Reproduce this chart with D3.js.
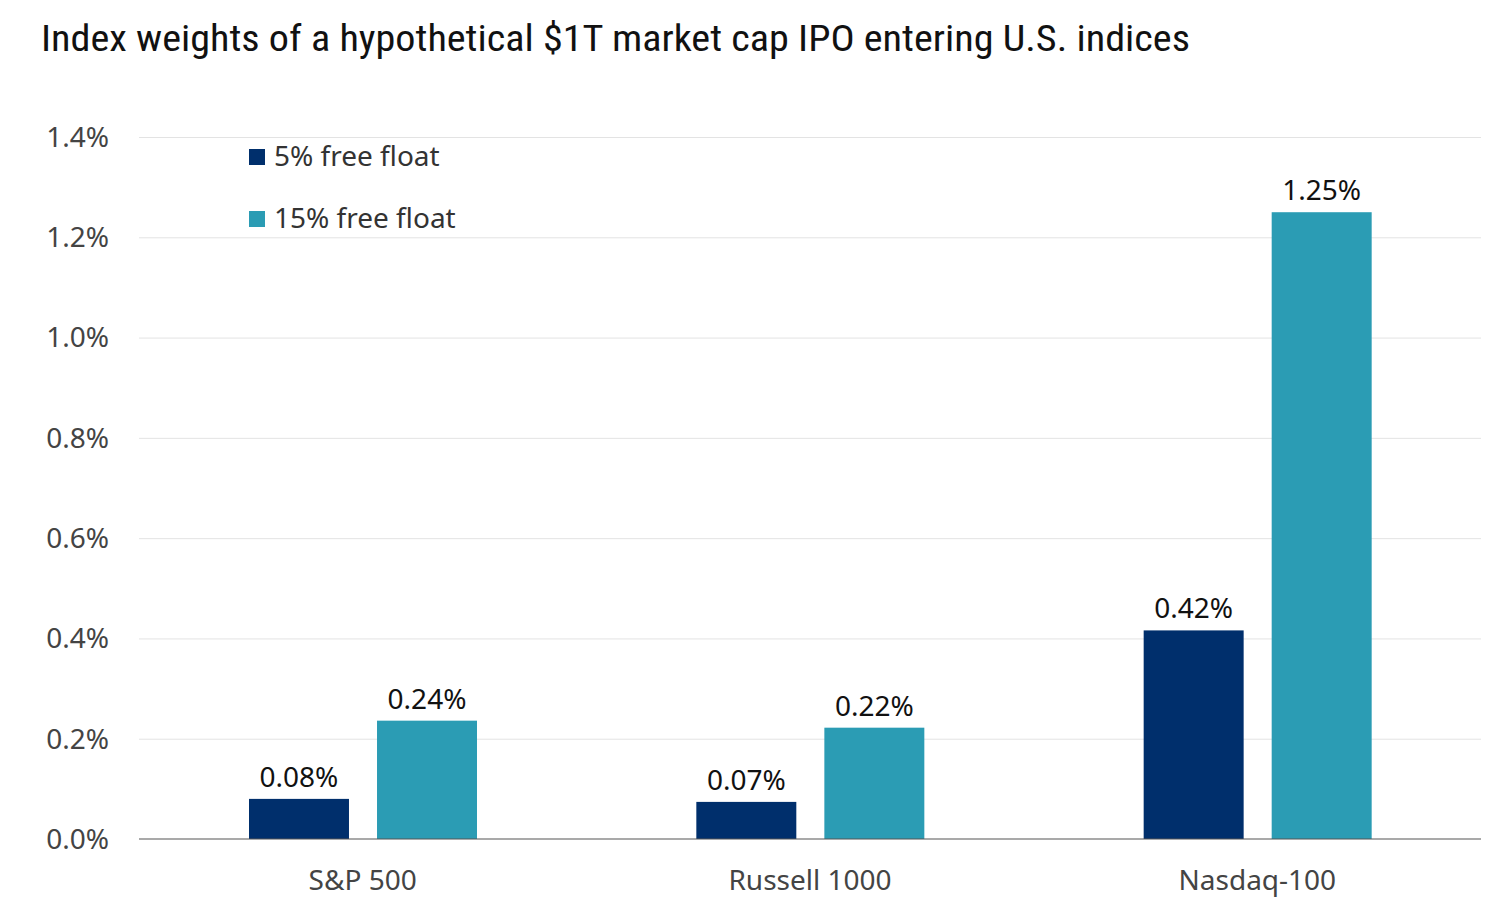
<!DOCTYPE html>
<html>
<head>
<meta charset="utf-8">
<style>
  body { margin: 0; background: #fff; }
  svg text { font-family: "Noto Sans", "Open Sans", sans-serif; }
  .title { font-family: "Liberation Sans Narrow", "Roboto Condensed", sans-serif; }
  .grid line { stroke: #e3e3e3; stroke-width: 1; }
  .grid path { display: none; }
</style>
</head>
<body>
<svg width="1504" height="915"></svg>
<script src="https://cdn.jsdelivr.net/npm/d3@7"></script>
<script>
// chart data
var categories = ["S&P 500", "Russell 1000", "Nasdaq-100"];
var seriesNames = ["5% free float", "15% free float"];
var float5 = [0.08, 0.074, 0.416];
var float15 = [0.236, 0.222, 1.25];
var yTicks = [0, 0.2, 0.4, 0.6, 0.8, 1.0, 1.2, 1.4];
var colors = ["#002f6c", "#2b9cb4"];

var svg = d3.select("svg");
var margin = { top: 137, right: 23, bottom: 76, left: 139 },
    width = 1504 - margin.left - margin.right,
    height = 915 - margin.top - margin.bottom;

svg.append("text")
    .attr("class", "title")
    .attr("x", 41).attr("y", 51)
    .attr("font-size", 37)
    .attr("fill", "#111")
    .attr("textLength", 1149)
    .attr("lengthAdjust", "spacingAndGlyphs")
    .text("Index weights of a hypothetical $1T market cap IPO entering U.S. indices");

var g = svg.append("g").attr("transform", "translate(" + margin.left + "," + margin.top + ")");

var x = d3.scaleBand().domain(categories).range([0, width]).padding(0);
var x1 = d3.scaleBand().domain(seriesNames).range([110, 338]).paddingInner(0.219);
var y = d3.scaleLinear().domain([0, 1.4]).range([height, 0]);

// gridlines
g.append("g").attr("class", "grid")
    .call(d3.axisLeft(y).tickValues(yTicks.slice(1)).tickSize(-width).tickFormat(""));

// y labels
g.append("g").selectAll("text").data(yTicks).join("text")
    .attr("x", -30).attr("y", function (d) { return y(d); })
    .attr("dy", "0.35em")
    .attr("text-anchor", "end")
    .attr("font-size", 28)
    .attr("fill", "#444")
    .text(function (d) { return d.toFixed(1) + "%"; });

var rows = categories.map(function (c, i) {
    return { cat: c, vals: [float5[i], float15[i]] };
});

var groups = g.selectAll(".grp").data(rows).join("g")
    .attr("class", "grp")
    .attr("transform", function (d) { return "translate(" + x(d.cat) + ",0)"; });

groups.selectAll("rect").data(function (d) { return d.vals.map(function (v, j) { return { s: seriesNames[j], v: v, j: j }; }); })
    .join("rect")
    .attr("x", function (d) { return x1(d.s); })
    .attr("width", x1.bandwidth())
    .attr("y", function (d) { return y(d.v); })
    .attr("height", function (d) { return height - y(d.v); })
    .attr("fill", function (d) { return colors[d.j]; });

groups.selectAll(".val").data(function (d) { return d.vals.map(function (v, j) { return { s: seriesNames[j], v: v }; }); })
    .join("text")
    .attr("class", "val")
    .attr("x", function (d) { return x1(d.s) + x1.bandwidth() / 2; })
    .attr("y", function (d) { return y(d.v) - 12; })
    .attr("text-anchor", "middle")
    .attr("font-size", 28)
    .attr("fill", "#111")
    .text(function (d) { return d3.format(".2f")(d.v) + "%"; });

// x axis line
g.append("line")
    .attr("x1", 0).attr("x2", width)
    .attr("y1", height).attr("y2", height)
    .attr("stroke", "#555").attr("stroke-width", 1.2);

g.append("g").selectAll("text").data(categories).join("text")
    .attr("x", function (d) { return x(d) + x.bandwidth() / 2; })
    .attr("y", height + 51)
    .attr("text-anchor", "middle")
    .attr("font-size", 28)
    .attr("fill", "#444")
    .text(function (d) { return d; });

// legend
var leg = svg.append("g").selectAll("g").data(seriesNames).join("g")
    .attr("transform", function (d, i) { return "translate(249," + (149 + i * 62) + ")"; });
leg.append("rect").attr("width", 16).attr("height", 16)
    .attr("fill", function (d, i) { return colors[i]; });
leg.append("text").attr("x", 25).attr("y", 17)
    .attr("font-size", 28).attr("fill", "#333")
    .text(function (d) { return d; });
</script>
</body>
</html>
